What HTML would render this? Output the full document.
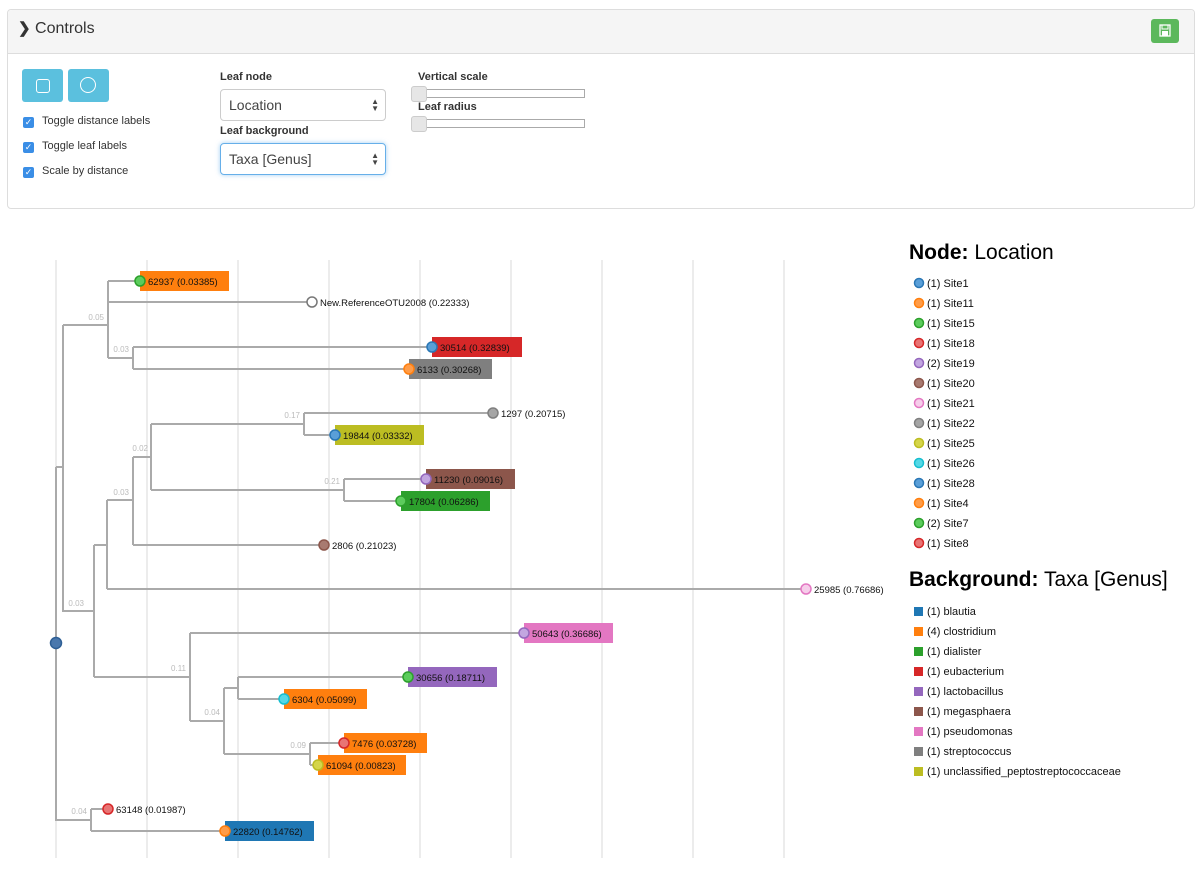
<!DOCTYPE html>
<html><head><meta charset="utf-8"><style>
body{margin:0;width:1203px;height:873px;background:#fff;font-family:"Liberation Sans",sans-serif;position:relative;overflow:hidden}
.a{position:absolute}
.panel{left:7px;top:9px;width:1186px;height:198px;border:1px solid #ddd;border-radius:4px}
.hdr{left:0;top:0;width:1186px;height:43px;background:#f5f5f5;border-bottom:1px solid #ddd;border-radius:4px 4px 0 0}
.lbl{font-size:11px;font-weight:bold;color:#333}
.cb{width:11px;height:11px;background:#3a8ee6;border-radius:2px;color:#fff;font-size:9px;line-height:11px;text-align:center}
.cbt{font-size:11px;color:#333}
.sel{width:166px;height:32px;border:1px solid #ccc;border-radius:4px;font-size:14px;color:#444;box-sizing:border-box;padding:7px 8px}
.track{width:172px;height:9px;border:1px solid #aaa;box-sizing:border-box;background:#fff}
.thumb{width:14px;height:14px;border:1px solid #ccc;border-radius:3px;background:#e6e6e6}
</style></head><body>
<div class="a panel">
 <div class="a hdr"></div>
 <div class="a" style="left:10px;top:9px;font-size:16px;color:#333"><b style="font-size:15px">&#x276F;</b> Controls</div>
 <div class="a" style="left:1143px;top:9px;width:28px;height:24px;background:#5cb85c;border-radius:3px">
  <svg width="28" height="24"><rect x="9" y="6" width="10" height="11" fill="none" stroke="#fff" stroke-width="1.3"/><rect x="11" y="6" width="6" height="4" fill="none" stroke="#fff"/><rect x="11" y="12" width="6" height="5" fill="#fff"/></svg>
 </div>
</div>
<div class="a" style="left:22px;top:69px;width:41px;height:33px;background:#5bc0de;border-radius:3px"><div class="a" style="left:14px;top:10px;width:12px;height:12px;border:1.5px solid #fff;border-radius:3px"></div></div>
<div class="a" style="left:68px;top:69px;width:41px;height:33px;background:#5bc0de;border-radius:3px"><div class="a" style="left:12px;top:8px;width:14px;height:14px;border:1.5px solid #fff;border-radius:50%"></div></div>
<div class="a cb" style="left:23px;top:117px">✓</div><div class="a cbt" style="left:42px;top:115px">Toggle distance labels</div>
<div class="a cb" style="left:23px;top:142px">✓</div><div class="a cbt" style="left:42px;top:140px">Toggle leaf labels</div>
<div class="a cb" style="left:23px;top:167px">✓</div><div class="a cbt" style="left:42px;top:165px">Scale by distance</div>
<div class="a lbl" style="left:220px;top:71px">Leaf node</div>
<div class="a sel" style="left:220px;top:89px">Location<span class="a" style="right:6px;top:8px;font-size:8px;line-height:7px">▲<br>▼</span></div>
<div class="a lbl" style="left:220px;top:125px">Leaf background</div>
<div class="a sel" style="left:220px;top:143px;border-color:#66afe9;box-shadow:0 0 5px rgba(102,175,233,.6)">Taxa [Genus]<span class="a" style="right:6px;top:8px;font-size:8px;line-height:7px">▲<br>▼</span></div>
<div class="a lbl" style="left:418px;top:71px">Vertical scale</div>
<div class="a track" style="left:413px;top:89px"></div><div class="a thumb" style="left:411px;top:86px"></div>
<div class="a lbl" style="left:418px;top:101px">Leaf radius</div>
<div class="a track" style="left:413px;top:119px"></div><div class="a thumb" style="left:411px;top:116px"></div>

<svg class="a" style="left:0;top:0" width="1203" height="873" font-family="Liberation Sans, sans-serif">
<g stroke="#e6e6e6" stroke-width="1.5">
<line x1="56" y1="260" x2="56" y2="858"/><line x1="147" y1="260" x2="147" y2="858"/><line x1="238" y1="260" x2="238" y2="858"/><line x1="329" y1="260" x2="329" y2="858"/><line x1="420" y1="260" x2="420" y2="858"/><line x1="511" y1="260" x2="511" y2="858"/><line x1="602" y1="260" x2="602" y2="858"/><line x1="693" y1="260" x2="693" y2="858"/><line x1="784" y1="260" x2="784" y2="858"/>
</g>
<g fill="none" stroke="#aaa" stroke-width="2">
<path d="M56 467V820H91M56 467H63M63 325V611H94"/>
<path d="M63 325H108M108 281V358M108 281H140M108 302H312M108 358H133M133 347V369M133 347H432M133 369H409"/>
<path d="M94 545V677M94 545H107M107 500V589M107 589H806M107 500H133M133 457V545M133 545H324M133 457H151M151 424V490M151 424H304M304 413V435M304 413H493M304 435H335M151 490H344M344 479V501M344 479H426M344 501H401"/>
<path d="M94 677H190M190 633V721M190 633H524M190 721H224M224 688V754M224 688H238M238 677V699M238 677H408M238 699H284M224 754H310M310 743V765M310 743H344M310 765H318"/>
<path d="M91 809V831M91 809H108M91 831H225"/>
</g>
<g font-size="8" fill="#bbb" text-anchor="end">
<text x="104" y="320">0.05</text><text x="129" y="352">0.03</text><text x="84" y="606">0.03</text>
<text x="300" y="418">0.17</text><text x="148" y="451">0.02</text><text x="340" y="484">0.21</text><text x="129" y="495">0.03</text>
<text x="186" y="671">0.11</text><text x="220" y="715">0.04</text><text x="306" y="748">0.09</text><text x="87" y="814">0.04</text>
</g>
<g>
<rect x="140" y="271" width="89" height="20" fill="#ff7f0e"/>
<rect x="432" y="337" width="90" height="20" fill="#d62728"/>
<rect x="409" y="359" width="83" height="20" fill="#7f7f7f"/>
<rect x="335" y="425" width="89" height="20" fill="#bcbd22"/>
<rect x="426" y="469" width="89" height="20" fill="#8c564b"/>
<rect x="401" y="491" width="89" height="20" fill="#2ca02c"/>
<rect x="524" y="623" width="89" height="20" fill="#e377c2"/>
<rect x="408" y="667" width="89" height="20" fill="#9467bd"/>
<rect x="284" y="689" width="83" height="20" fill="#ff7f0e"/>
<rect x="344" y="733" width="83" height="20" fill="#ff7f0e"/>
<rect x="318" y="755" width="88" height="20" fill="#ff7f0e"/>
<rect x="225" y="821" width="89" height="20" fill="#1f77b4"/>
</g>
<g stroke-width="1.5">
<circle cx="56" cy="643" r="5.5" fill="#4a78ad" stroke="#2e5f95"/>
<circle cx="140" cy="281" r="5" fill="#5ccc5c" stroke="#2ca02c"/>
<circle cx="312" cy="302" r="5" fill="#fff" stroke="#777"/>
<circle cx="432" cy="347" r="5" fill="#5a9fd8" stroke="#2a77b5"/>
<circle cx="409" cy="369" r="5" fill="#ff9c48" stroke="#ff7f0e"/>
<circle cx="493" cy="413" r="5" fill="#a5a5a5" stroke="#7f7f7f"/>
<circle cx="335" cy="435" r="5" fill="#5a9fd8" stroke="#2a77b5"/>
<circle cx="426" cy="479" r="5" fill="#c2a6e0" stroke="#9467bd"/>
<circle cx="401" cy="501" r="5" fill="#5ccc5c" stroke="#2ca02c"/>
<circle cx="324" cy="545" r="5" fill="#a87a70" stroke="#8c564b"/>
<circle cx="806" cy="589" r="5" fill="#f6cdea" stroke="#e377c2"/>
<circle cx="524" cy="633" r="5" fill="#c2a6e0" stroke="#9467bd"/>
<circle cx="408" cy="677" r="5" fill="#5ccc5c" stroke="#2ca02c"/>
<circle cx="284" cy="699" r="5" fill="#55d8e6" stroke="#17becf"/>
<circle cx="344" cy="743" r="5" fill="#e87474" stroke="#d62728"/>
<circle cx="318" cy="765" r="5" fill="#d5d54a" stroke="#bcbd22"/>
<circle cx="108" cy="809" r="5" fill="#e87474" stroke="#d62728"/>
<circle cx="225" cy="831" r="5" fill="#ff9c48" stroke="#ff7f0e"/>
</g>
<g font-size="9.5" fill="#111">
<text x="148" y="285">62937 (0.03385)</text>
<text x="320" y="306">New.ReferenceOTU2008 (0.22333)</text>
<text x="440" y="351">30514 (0.32839)</text>
<text x="417" y="373">6133 (0.30268)</text>
<text x="501" y="417">1297 (0.20715)</text>
<text x="343" y="439">19844 (0.03332)</text>
<text x="434" y="483">11230 (0.09016)</text>
<text x="409" y="505">17804 (0.06286)</text>
<text x="332" y="549">2806 (0.21023)</text>
<text x="814" y="593">25985 (0.76686)</text>
<text x="532" y="637">50643 (0.36686)</text>
<text x="416" y="681">30656 (0.18711)</text>
<text x="292" y="703">6304 (0.05099)</text>
<text x="352" y="747">7476 (0.03728)</text>
<text x="326" y="769">61094 (0.00823)</text>
<text x="116" y="813">63148 (0.01987)</text>
<text x="233" y="835">22820 (0.14762)</text>
</g>
<text x="909" y="259" font-size="21" fill="#000"><tspan font-weight="bold">Node:</tspan> Location</text>
<g stroke-width="1.5">
<circle cx="919" cy="283" r="4.5" fill="#5a9fd8" stroke="#2a77b5"/>
<circle cx="919" cy="303" r="4.5" fill="#ff9c48" stroke="#ff7f0e"/>
<circle cx="919" cy="323" r="4.5" fill="#5ccc5c" stroke="#2ca02c"/>
<circle cx="919" cy="343" r="4.5" fill="#e87474" stroke="#d62728"/>
<circle cx="919" cy="363" r="4.5" fill="#c2a6e0" stroke="#9467bd"/>
<circle cx="919" cy="383" r="4.5" fill="#a87a70" stroke="#8c564b"/>
<circle cx="919" cy="403" r="4.5" fill="#f6cdea" stroke="#e377c2"/>
<circle cx="919" cy="423" r="4.5" fill="#a5a5a5" stroke="#7f7f7f"/>
<circle cx="919" cy="443" r="4.5" fill="#d5d54a" stroke="#bcbd22"/>
<circle cx="919" cy="463" r="4.5" fill="#55d8e6" stroke="#17becf"/>
<circle cx="919" cy="483" r="4.5" fill="#5a9fd8" stroke="#2a77b5"/>
<circle cx="919" cy="503" r="4.5" fill="#ff9c48" stroke="#ff7f0e"/>
<circle cx="919" cy="523" r="4.5" fill="#5ccc5c" stroke="#2ca02c"/>
<circle cx="919" cy="543" r="4.5" fill="#e87474" stroke="#d62728"/>
</g>
<g font-size="11" fill="#111">
<text x="927" y="287">(1) Site1</text><text x="927" y="307">(1) Site11</text><text x="927" y="327">(1) Site15</text><text x="927" y="347">(1) Site18</text><text x="927" y="367">(2) Site19</text><text x="927" y="387">(1) Site20</text><text x="927" y="407">(1) Site21</text><text x="927" y="427">(1) Site22</text><text x="927" y="447">(1) Site25</text><text x="927" y="467">(1) Site26</text><text x="927" y="487">(1) Site28</text><text x="927" y="507">(1) Site4</text><text x="927" y="527">(2) Site7</text><text x="927" y="547">(1) Site8</text>
</g>
<text x="909" y="586" font-size="21" fill="#000"><tspan font-weight="bold">Background:</tspan> Taxa [Genus]</text>
<g>
<rect x="914" y="607" width="9" height="9" fill="#1f77b4"/><rect x="914" y="627" width="9" height="9" fill="#ff7f0e"/><rect x="914" y="647" width="9" height="9" fill="#2ca02c"/><rect x="914" y="667" width="9" height="9" fill="#d62728"/><rect x="914" y="687" width="9" height="9" fill="#9467bd"/><rect x="914" y="707" width="9" height="9" fill="#8c564b"/><rect x="914" y="727" width="9" height="9" fill="#e377c2"/><rect x="914" y="747" width="9" height="9" fill="#7f7f7f"/><rect x="914" y="767" width="9" height="9" fill="#bcbd22"/>
</g>
<g font-size="11" fill="#111">
<text x="927" y="615">(1) blautia</text><text x="927" y="635">(4) clostridium</text><text x="927" y="655">(1) dialister</text><text x="927" y="675">(1) eubacterium</text><text x="927" y="695">(1) lactobacillus</text><text x="927" y="715">(1) megasphaera</text><text x="927" y="735">(1) pseudomonas</text><text x="927" y="755">(1) streptococcus</text><text x="927" y="775">(1) unclassified_peptostreptococcaceae</text>
</g>
</svg>
</body></html>
